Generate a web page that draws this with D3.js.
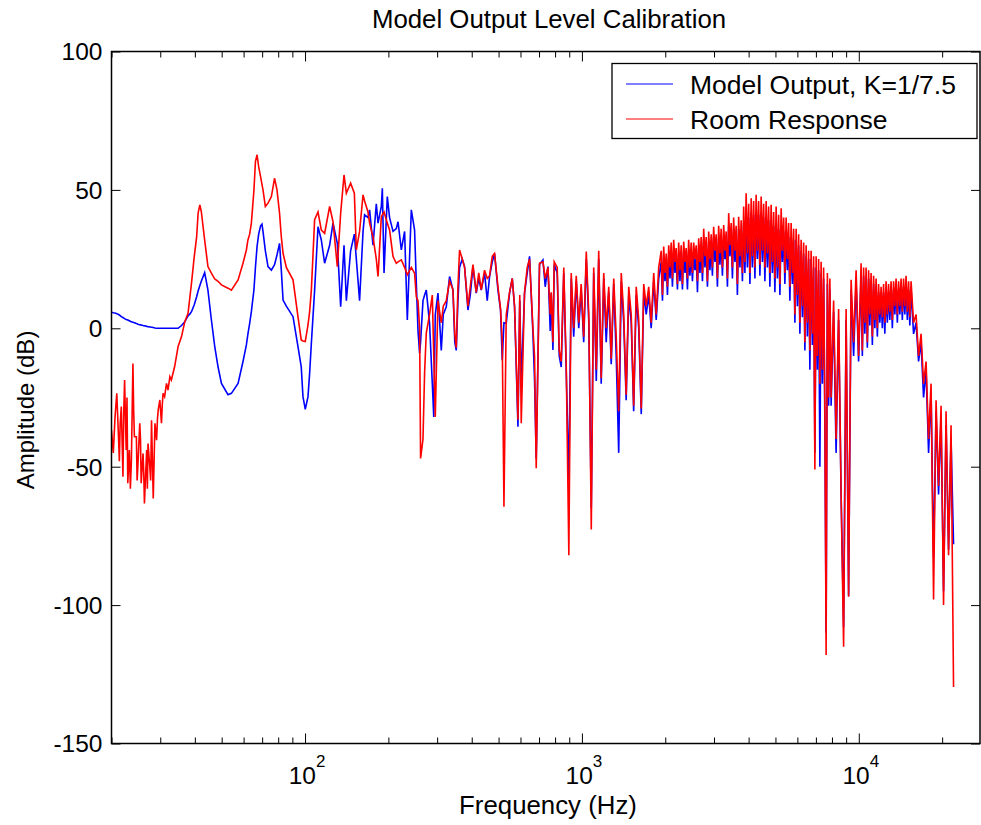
<!DOCTYPE html>
<html>
<head>
<meta charset="utf-8" />
<title>Model Output Level Calibration</title>
<script src="https://cdn.jsdelivr.net/npm/d3@7"></script>
<style>
  body { margin: 0; background: #fff; }
  text { font-family: 'Liberation Sans', Arial, sans-serif; fill: #000; }
</style>
</head>
<body>
<svg id="chart" width="981" height="825"></svg>
<script>
// frequency points (Hz), shared by both curves
var freqHz = [
  20.0, 20.3, 20.6, 20.9, 21.2, 21.35, 21.5, 21.7, 22.0, 22.15, 22.3, 22.6, 22.75, 22.9, 23.2, 23.4,
  23.6, 23.9, 24.05, 24.2, 24.6, 24.75, 24.9, 25.3, 25.45, 25.6, 26.0, 26.15, 26.3, 26.8, 26.95, 27.1,
  27.5, 27.7, 27.9, 28.3, 28.5, 28.7, 29.1, 29.3, 29.5, 29.9, 30.3, 30.5, 30.7, 31.1,
  31.6, 32.0, 32.5, 32.9, 33.8, 34.8, 35.8, 36.8, 37.8, 38.4, 38.9, 39.8, 40.6, 41.1, 41.7, 42.2,
  43.4, 44.6, 45.9, 47.2, 48.5, 49.9, 52.7, 54.2, 57.3, 59.7, 61.4, 62.2, 63.1, 64.0, 65.4, 66.2,
  67.1, 68.0, 69.1, 69.9, 70.5, 71.9, 73.5, 75.6, 77.6, 79.2, 80.9, 82.1, 83.3, 85.6, 90.5, 94.3,
  96.9, 98.3, 100.2, 102.5, 103.9, 105.4, 108.3, 111.4, 114.5, 117.7, 122.7, 126.2, 130.8, 134.5, 138.3, 141,
  146.1, 150.7, 153.2, 157.4, 162, 164.1, 168.8, 171.1, 176, 180.9, 183.5, 188.6, 190.2, 192.9, 198.2, 202,
  207.9, 213.6, 216.7, 222.7, 228.9, 234.1, 242, 248.7, 252.3, 255.8, 259.3, 261.4, 266.7, 270.3, 274.1,
  281.7, 288.2, 291.7, 295.4, 302.1, 310.5, 315.7, 323.7, 332.7, 342.2, 347.4, 351.7, 356.7, 361.5, 369.7, 376.9,
  387.6, 395.2, 404.1, 415.3, 424, 433, 445, 455.1, 463.9, 474.5, 483.6, 497.5, 508.3, 515.6, 522.9, 533,
  547.8, 560.3, 571.1, 587.5, 596.4, 603.8, 620.6, 634.6, 646.9, 665.4, 674.4, 683.9, 702.9, 723.1, 737.1, 753.9,
  768.4, 774.8, 785.8, 794.3, 814.3, 828.1,
  842, 860, 878, 897, 915, 934, 954, 974, 994, 1015, 1037, 1059, 1081, 1103, 1127, 1150,
  1174, 1199, 1224, 1250, 1276, 1303, 1330, 1358, 1387, 1416, 1445, 1476, 1507, 1538, 1571, 1604,
  1638, 1672, 1707, 1743, 1779, 1817, 1855, 1894,
  1934, 1954, 1974, 1995, 2016, 2037, 2058, 2080, 2101, 2123, 2145, 2168, 2190, 2213, 2236, 2260,
  2283, 2307, 2331, 2356, 2380, 2405, 2430, 2455, 2481, 2507, 2533, 2560, 2587, 2614, 2641, 2669,
  2696, 2725, 2753, 2782, 2811, 2840, 2870, 2900, 2930, 2960, 2991, 3022, 3054, 3086, 3118, 3151,
  3184, 3217, 3251, 3285, 3319, 3354, 3389, 3424, 3460, 3496, 3532, 3569, 3606, 3644, 3682, 3721,
  3760, 3799, 3839, 3879, 3919, 3960, 4002, 4044, 4086, 4128, 4171, 4215, 4259, 4303, 4348, 4394,
  4440, 4486, 4533, 4580, 4628, 4676, 4725, 4774, 4824, 4875, 4926, 4977, 5029, 5082, 5135, 5189,
  5243, 5298, 5353, 5409, 5465, 5522, 5580, 5638, 5697, 5757, 5817, 5877, 5939, 6001, 6064, 6127,
  6191, 6256, 6321, 6387, 6454, 6521, 6589, 6658, 6727, 6797, 6869, 6940, 7013, 7086, 7160, 7235,
  7310, 7387, 7464, 7542, 7621, 7700, 7781, 7862, 7944,
  8111, 8281, 8455,
  8632, 8814, 8999, 9188, 9381, 9578, 9779, 9984,
  10193, 10299, 10407, 10516, 10626, 10737, 10849, 10962, 11077, 11193, 11310, 11428, 11547, 11668, 11790, 11913,
  12037, 12163, 12290, 12418, 12548, 12679, 12812, 12945, 13080, 13217, 13355, 13495, 13636, 13778, 13922, 14067,
  14214, 14363, 14513, 14665, 14818, 14973, 15129, 15287, 15446,
  15770, 16102, 16440,
  16785, 17137, 17497, 17865, 18240, 18623, 19014, 19413, 19820, 20237, 20662, 21096, 21538, 21990
];

// Model Output, K=1/7.5 (dB)
var modelDb = [
  5.8, 5.6, 5.5, 5.3, 5.0, 4.8, 4.6, 4.2, 3.9, 3.7, 3.5, 3.2, 3.1, 3.0, 2.7, 2.5,
  2.4, 2.2, 2.1, 2.0, 1.7, 1.6, 1.5, 1.3, 1.25, 1.2, 1.0, 0.95, 0.9, 0.7, 0.65, 0.6,
  0.5, 0.45, 0.4, 0.3, 0.2, 0.1, 0, 0, 0, 0, 0, 0, 0, 0,
  0, 0, 0, 0, 0, 0, 1, 2.4, 4.5, 5.2, 6, 8.5, 11.4, 13.5, 15.5, 17,
  20.1, 13.8, 3, -6.6, -13.9, -19.9, -24, -23.5, -19.9, -12, -6, -2, 1.8, 6, 14, 22,
  29.5, 34, 37, 37.6, 35, 28, 22.3, 21, 23, 26.5, 30.7, 21, 10.2, 8, 4.2, -6.6,
  -13.9, -24.7, -29.3, -24.7, -16.3, -5.4, 13.8, 36.7, 31.9, 23.5, 30, 38, 30.7, 7.8, 30, 10,
  28, 34, 25, 10, 35, 41, 40, 42.8, 30, 45, 38, 44, 50.6, 20, 47.6, 40,
  35, 36, 38.5, 28.3, 35, 3, 42.8, 35.5, 16.4, -0.6, -9, -5, 10, 12, 13.8,
  1.8, -20, -32, 5, 12.7, -8, 5, 7.8, 18.7, 13.8, -5, -8, 10, 22, 25, 22.3,
  6.6, 12, 22.3, 12.7, 18, 13.8, 20, 10, 18.7, 24, 27, 13.8, 6.6, -11.5, 2, 1.8,
  12.7, 18, 7.8, -35.6, 10, -20, 12.7, 20, 26, -1.8, -18.7, -47, 23, 24.7, 15, 22.3,
  -1, 12.7, -7.8, 23, 20, -10,
  -14, 20, -16, -55, 18, -3, 17, 0, 14, -5, 25, 2, -65, 20, -19, 25,
  -20, 18, -5, 13, -13, 16, -10, -45, 17, 2, -26, 12, 2, -30, 12, 0,
  -31, 13, 5, 12, 0, 17, 3, 18,
  24, 10, 26, 17, 23, 12, 26, 18, 27, 15, 28, 20, 25, 14, 27, 17,
  26, 14, 28, 20, 25, 14, 28, 19, 27, 17, 27, 21, 26, 13, 29, 20,
  29, 17, 32, 22, 29, 15, 31, 21, 30, 19, 33, 24, 30, 15, 33, 23,
  32, 19, 33, 25, 31, 15, 37, 26, 34, 18, 36, 24, 33, 12, 36, 22,
  35, 17, 38, 20, 42, 22, 40, 16, 42, 22, 41, 18, 42, 25, 41, 19,
  42, 24, 40, 17, 40, 22, 39, 15, 38, 20, 37, 13, 38, 18, 36, 12,
  37, 24, 35, 16, 35, 21, 33, 10, 33, 16, 32, 2, 32, 8, 30, -2,
  28, 4, 27, -8, 26, -3, 25, -15, 25, -6, 22, -45, 22, -15, 21, -50,
  20, -20, 18, -35, -110, 16, -28, 14, -28,
  6, -45, 3,
  -60, -108, 3, -96.7, 14, -10, 17, -12,
  20, -10, 19, -2, 18, -7, 18, 1, 17, -6, 16, 0, 15, -3, 13, 2,
  12, 0, 13, -2, 14, 2, 13, 3, 14, 0, 14, 5, 15, 2, 14, 5,
  15, 3, 15, 5, 16, 3, 14, 1, 14,
  -2, 2, -12,
  -5, -25, -15, -45, -23, -83, -30, -60, -32, -95, -35, -80, -40, -78
];

// Room Response (dB)
var roomDb = [
  -36.8, -45, -32, -23.5, -39.2, -48, -34.3, -28.3, -53.6, -30, -18.7, -44, -25, -56, -44, -58,
  -47.6, -12.7, -30, -39.2, -39.2, -55, -50, -34.3, -40, -56, -45.2, -52, -63.3, -44, -58, -41.6,
  -50, -55, -33.2, -61.5, -48, -34.3, -40.4, -33, -29.5, -25.9, -34.3, -28, -23.5, -24.7,
  -19.9, -22.3, -17.5, -18.7, -13.9, -6.6, -3, 2.4, 5.4, 11.4, 16.3, 25.9, 33, 41.6, 44.6, 42.2,
  31.9, 22.3, 19.9, 17.8, 17, 15.7, 14.5, 13.8, 17.5, 23.5, 28.3, 31.9, 34, 38, 50, 60.2,
  62.7, 58.4, 54.8, 52, 50, 44, 45.2, 47.6, 54.2, 50, 41.6, 33, 27.1, 22, 17.5, 4.2,
  -4.2, -4.6, -4.8, 1.2, 6, 13.8, 39.2, 42, 35.5, 34.3, 44, 38.5, 22.3, 41.6, 55.4, 48.8,
  52.4, 48.8, 28.3, 35, 48.2, 46, 42, 38, 33, 25, 18.7, 40.3, 41, 42, 38, 35.5,
  25.9, 23.5, 24, 24.7, 22, 19.3, 22, 19.9, 11.4, 10, 0, -47, -40, -16, -1.7,
  5, 12, -10, -32, 10, 2, 8, 10, 17, 14, -2, -7, 15, 28.3, 25, 22,
  8, 15, 23, 13, 20, 14, 21, 18, 19, 26, 27, 15, 7, -5, -64.5, 5,
  13, 18, 8, -33, 12, -34.3, 13, 22, 25, 0, -10, -50.6, 23.5, 24, 18, 22,
  5, 13, -5, 24, 22, -8,
  -12, 22, -14, -82, 20, 0, 19, 2, 16, -3, 27.7, 5, -72.7, 22, -15, 28,
  -18, 20, 0, 15, -11, 18, -3, -30, 20, 5, -24, 15, 5, -28, 15, 3,
  -29, 16, 8, 15, 2, 20, 5, 22,
  28, 12, 29.5, 20, 27, 15, 30, 22, 31, 18, 32, 24, 29, 16, 31, 21,
  30, 16, 31.3, 24, 29, 18, 32, 22, 31, 20, 31, 25, 30, 17, 32.5, 24,
  33, 20, 36, 26, 33, 17, 35, 25, 34, 22, 36.7, 28, 34, 18, 37, 27,
  36, 22, 37.3, 28, 35, 18, 41.6, 30, 38, 22, 40, 28, 37, 16, 40.3, 26,
  39, 20, 44, 24, 48.8, 27, 45, 20, 47, 26, 46, 22, 48.2, 28, 46, 23,
  47.6, 28, 45, 22, 46, 27, 44, 20, 44.6, 24, 42, 18, 44, 22, 41, 16,
  43.4, 28, 40, 20, 40, 25, 38, 15, 38, 20, 36, 5, 36, 12, 34, 2,
  32, 8, 31, -5, 30, 2, 28, -8, 28, -2, 26, -51, 26, -10, 25, -20,
  24, -15, 22, -30, -118, 20, -25, 18, -25,
  10, -40, 7,
  -60, -115, 7, -97, 17.5, -5, 21, -10,
  23.5, -8, 22, 2, 22, -5, 21, 5, 20, -3, 19, 3, 18, 0, 16, 5,
  15, 4, 16, 2, 17, 5, 16, 6, 17, 3, 17, 8, 18, 5, 17, 8,
  18, 6, 18, 8, 19, 6, 17, 4, 17,
  2, 5, -10,
  -2, -20, -12, -40, -20, -98, -26, -57, -28, -100, -30, -82, -35, -129.6
];

var seriesNames = ['Model Output, K=1/7.5', 'Room Response'];
var seriesColors = ['#0000ff', '#ff0000'];
var yTicks = [-150, -100, -50, 0, 50, 100];
var xMajor = [100, 1000, 10000];
var xMajorExp = ['2', '3', '4'];

var plotL = 111.5, plotR = 980, plotT = 51.5, plotB = 743.5;

var svg = d3.select('#chart');
svg.append('rect').attr('width', 981).attr('height', 825).attr('fill', '#fff');

var x = d3.scaleLog().domain([20, 27400]).range([plotL, plotR]);
var y = d3.scaleLinear().domain([-150, 100]).range([plotB, plotT]);

var xMinor = x.ticks().filter(function (t) { return xMajor.indexOf(t) < 0; });

svg.append('defs').append('clipPath').attr('id', 'plotclip')
  .append('rect').attr('x', plotL).attr('y', plotT)
  .attr('width', plotR - plotL).attr('height', plotB - plotT);

// curves: blue first, red drawn over it
var line = d3.line()
  .x(function (d) { return x(d[0]); })
  .y(function (d) { return y(d[1]); });

[modelDb, roomDb].forEach(function (vals, i) {
  svg.append('path')
    .datum(freqHz.map(function (f, k) { return [f, vals[k]]; }))
    .attr('clip-path', 'url(#plotclip)')
    .attr('fill', 'none')
    .attr('stroke', seriesColors[i])
    .attr('stroke-width', 1.6)
    .attr('stroke-linejoin', 'miter')
    .attr('d', line);
});

// axes, ticks pointing inwards on all four sides
function styleAxis(g) {
  g.select('.domain').remove();
  g.selectAll('line').attr('stroke', '#000').attr('stroke-width', 1);
}
svg.append('g').attr('transform', 'translate(0,' + plotB + ')')
  .call(d3.axisBottom(x).tickValues(xMajor).tickSize(-10).tickFormat('')).call(styleAxis);
svg.append('g').attr('transform', 'translate(0,' + plotB + ')')
  .call(d3.axisBottom(x).tickValues(xMinor).tickSize(-6).tickFormat('')).call(styleAxis);
svg.append('g').attr('transform', 'translate(0,' + plotT + ')')
  .call(d3.axisTop(x).tickValues(xMajor).tickSize(-10).tickFormat('')).call(styleAxis);
svg.append('g').attr('transform', 'translate(0,' + plotT + ')')
  .call(d3.axisTop(x).tickValues(xMinor).tickSize(-6).tickFormat('')).call(styleAxis);
svg.append('g').attr('transform', 'translate(' + plotL + ',0)')
  .call(d3.axisLeft(y).tickValues(yTicks).tickSize(-9).tickFormat('')).call(styleAxis);
svg.append('g').attr('transform', 'translate(' + plotR + ',0)')
  .call(d3.axisRight(y).tickValues(yTicks).tickSize(-9).tickFormat('')).call(styleAxis);

svg.append('rect')
  .attr('x', plotL).attr('y', plotT)
  .attr('width', plotR - plotL).attr('height', plotB - plotT)
  .attr('fill', 'none').attr('stroke', '#000').attr('stroke-width', 1.5);

// y tick labels
svg.selectAll('.ylab').data(yTicks).enter().append('text')
  .attr('class', 'ylab')
  .attr('x', plotL - 9)
  .attr('y', function (d) { return y(d); })
  .attr('dy', '0.36em')
  .attr('text-anchor', 'end')
  .style('font-size', '24.5px')
  .text(function (d) { return d; });

// x tick labels 10^n
var xl = svg.selectAll('.xlab').data(xMajor).enter().append('text')
  .attr('class', 'xlab')
  .attr('x', function (d) { return x(d) + 2; })
  .attr('y', 784)
  .attr('text-anchor', 'middle')
  .style('font-size', '24.5px');
xl.append('tspan').text('10');
xl.append('tspan').attr('dy', -17).style('font-size', '17px')
  .text(function (d, i) { return xMajorExp[i]; });

// titles
svg.append('text').attr('x', 549).attr('y', 28).attr('text-anchor', 'middle')
  .style('font-size', '25.8px').text('Model Output Level Calibration');
svg.append('text').attr('x', 548).attr('y', 814).attr('text-anchor', 'middle')
  .style('font-size', '25.8px').text('Frequency (Hz)');
svg.append('text')
  .attr('transform', 'translate(34,' + 410 + ') rotate(-90)')
  .attr('text-anchor', 'middle')
  .style('font-size', '24px').text('Amplitude (dB)');

// legend
var lg = svg.append('g');
lg.append('rect').attr('x', 612).attr('y', 63.5).attr('width', 365).attr('height', 75)
  .attr('fill', '#fff').attr('stroke', '#000').attr('stroke-width', 1.3);
seriesNames.forEach(function (name, i) {
  var ly = 84 + i * 35;
  lg.append('line').attr('x1', 626).attr('x2', 673).attr('y1', ly).attr('y2', ly)
    .attr('stroke', seriesColors[i]).attr('stroke-width', 1.2);
  lg.append('text').attr('x', 690).attr('y', ly).attr('dy', '0.36em')
    .style('font-size', '26.5px').text(name);
});
</script>
</body>
</html>
